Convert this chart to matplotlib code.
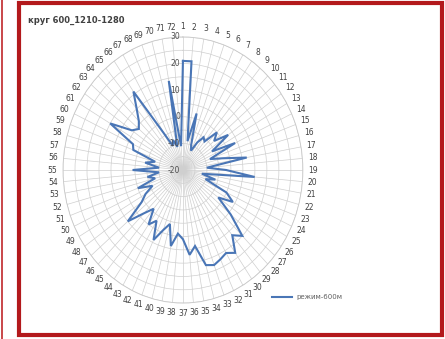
import numpy as np
import matplotlib.pyplot as plt
from matplotlib.patches import Rectangle

title = "круг 600_1210-1280"
series_name = "режим-600м"
categories = [str(i) for i in range(1, 73)]
values = [21, 21, -9, 2, -10, -12, -8, -5, -6, 0,
          -3, 3, -6, 4, -8, -3, 7, -10, -2, 10,
          -12, -6, -10, 0, 4, -2, 6, 15, 12, 18,
          16, 17, 18, 17, 9, 12, 6, 4, 9, 1,
          4, 9, 2, 5, -1, 3, 10, 1, -2, -6,
          0, -8, -5, -10, 1, -10, -4, -8, 2, 3,
          15, 6, 4, 6, 10, 16, -4, -10, -8, -11,
          14, -11]
r_ticks = [-20, -10, 0, 10, 20, 30]
r_grid = np.arange(-20, 31, 5)

fig = plt.figure(figsize=(4.45, 3.39), dpi=100)
ax = fig.add_axes([0.1416, 0.106, 0.539, 0.785], projection='polar')
ax.set_aspect('auto')
ax.set_theta_zero_location('N')
ax.set_theta_direction(-1)

theta = np.deg2rad(np.arange(len(categories)) * 360 / len(categories))
closed_t = np.append(theta, theta[0])
closed_v = np.append(values, values[0])
ax.plot(closed_t, closed_v, color='#4a76b6', lw=1.5, solid_joinstyle='miter')

ax.set_ylim(-20, 30)
ax.set_yticks(r_grid)
ax.set_yticklabels([])
ax.set_xticks(theta)
ax.set_xticklabels(categories, fontsize=5.5, color='#404040')
ax.tick_params(axis='x', pad=-3)
ax.grid(True, color='#cfcfcf', lw=0.5)
ax.spines['polar'].set_color('#c8c8c8')
ax.spines['polar'].set_linewidth(0.6)

# radial value labels to the left of the vertical axis
for v in r_ticks:
    ax.annotate(str(v), xy=(0, v), xytext=(-2, 0), textcoords='offset points',
                ha='right', va='center', fontsize=5.5, color='#505050')

fig.text(0.063, 0.94, title, fontsize=6, fontweight='bold', color='#404040',
         ha='left', va='center')

# legend entry
fig.add_artist(plt.Line2D([0.611, 0.656], [0.124, 0.124], color='#4a76b6', lw=1.5))
fig.text(0.665, 0.124, series_name, fontsize=5, color='#606060', va='center')

# outer red frame
fig.add_artist(Rectangle((0.043, 0.012), 0.95, 0.978, transform=fig.transFigure,
                         fill=False, ec='#b3191c', lw=3))
fig.add_artist(plt.Line2D([0.004, 0.004], [0.0, 1.0], color='#c0282a', lw=1.2))

fig.savefig('out.png', dpi=100)
